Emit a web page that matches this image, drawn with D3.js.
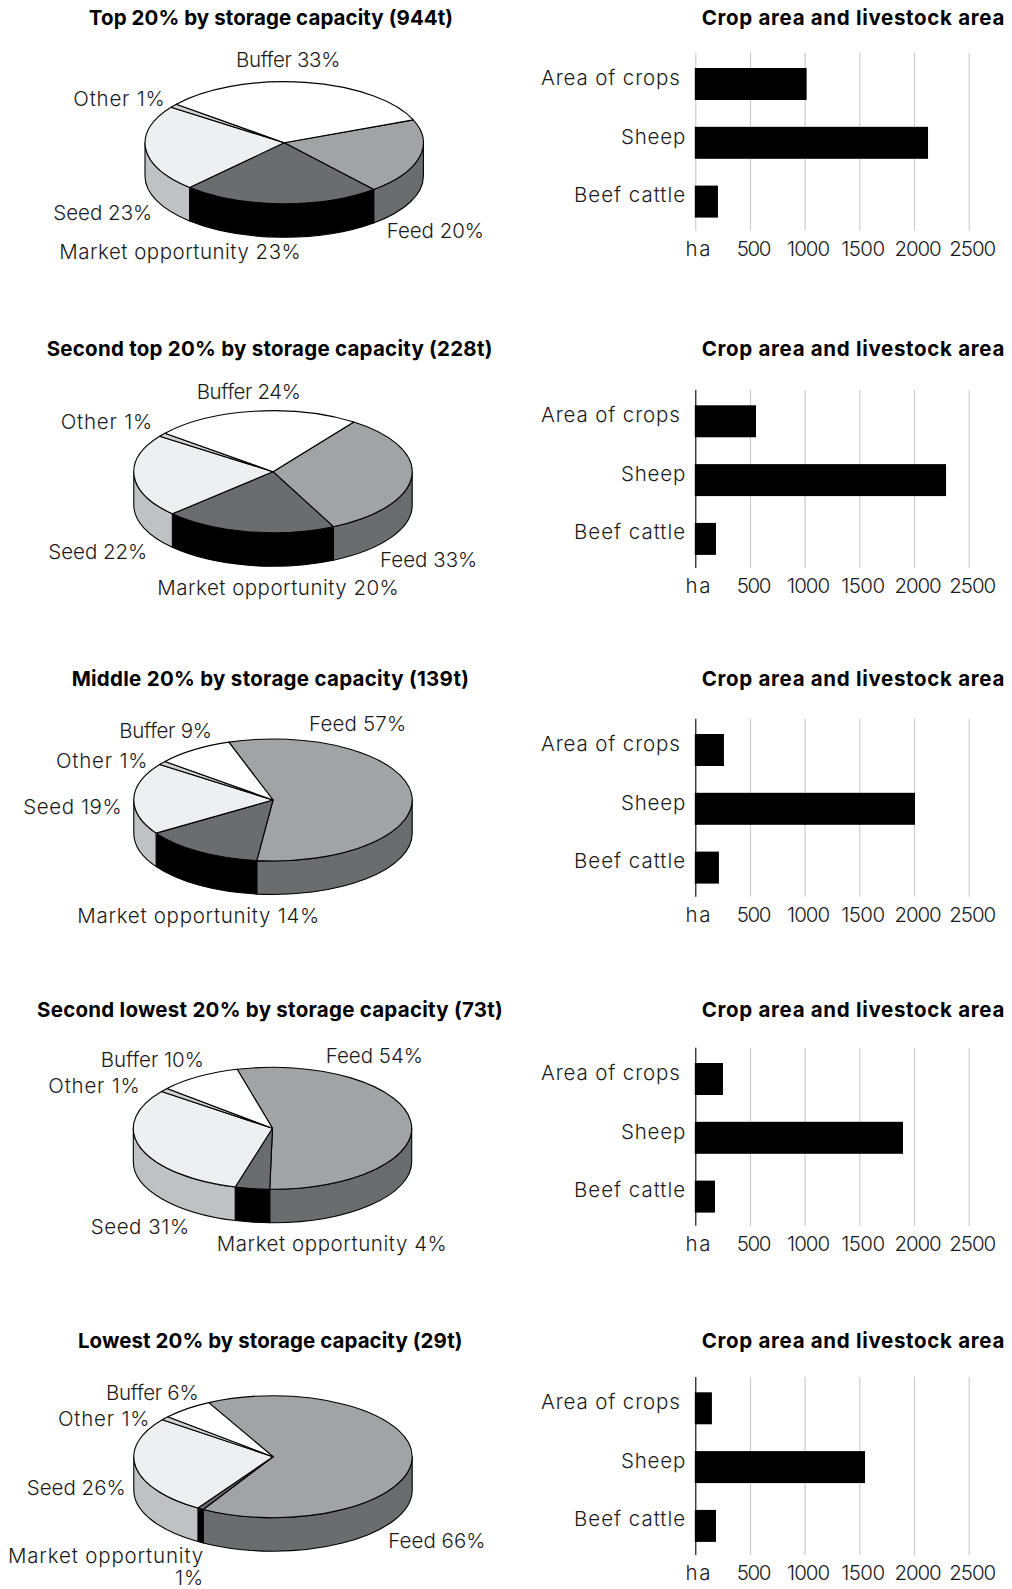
<!DOCTYPE html>
<html><head><meta charset="utf-8">
<script src="https://cdnjs.cloudflare.com/ajax/libs/d3/7.8.5/d3.min.js"></script>
<style>
html,body{margin:0;padding:0;background:#fff}
svg{display:block}
text{font-family:Inter,Lato,"Open Sans",sans-serif;fill:#1a1a1a}
.title{font-weight:700;font-size:20.5px;fill:#000}
.lab{font-size:20.5px;font-weight:300}
</style></head><body>
<svg id="c" width="1012" height="1589"></svg>
<script>
// ---- data ----
const pieTitles = ["Top 20% by storage capacity (944t)","Second top 20% by storage capacity (228t)","Middle 20% by storage capacity (139t)","Second lowest 20% by storage capacity (73t)","Lowest 20% by storage capacity (29t)"];
const barTitle = "Crop area and livestock area";
const sliceNames = ["Feed","Market opportunity","Seed","Other","Buffer"];
const feedPct   = [20,33,57,54.4,66];
const marketPct = [23,20,14,4,0.7];
const seedPct   = [23,22,19,31,26.3];
const otherPct  = [1,1,1,1,1];
const bufferPct = [33,24,9,9.6,6];
const barCategories = ["Area of crops","Sheep","Beef cattle"];
const cropsHa = [1018,555,262,253,152];
const sheepHa = [2128,2293,2009,1899,1552];
const beefHa  = [207,189,216,180,189];
const xTicks  = [0,500,1000,1500,2000,2500];

// ---- layout ----
const pieCx = [284.2,273,273,272.5,273];
const pieCy = [142.7,471.7,800,1128.3,1456.7];
const pieStartDeg = [68,35.5,-18.5,-14.7,-27.5];
const rx = 139.2, ry = 61, depth = 33.5;
const topFill  = ["#a2a3a5","#6b6c6e","#eeeff1","#d0d1d3","#ffffff"];
const sideFill = ["#6b6c6e","#000000","#c0c1c3","#9a9b9d","#dddddd"];
const titleCx = [271,269.7,270.5,270,270.3];
const titleY  = [24.7,356,686,1017.4,1348.4];
const titleW  = [364.3,446,397.7,466,384.7];
const barTitleW = 303.3;
const barTitleY = [24.7,356,686,1017.4,1348];
const gridTop = [52.7,390,718.7,1047.7,1377];
const axisCol = ["#c8c8c8","#000","#000","#000","#000"];
// label anchors: Feed, Market, Seed, Other, Buffer as [x, baseline]
const labelPos = [
 [[386.7,237.7],[59.3,258.7],[53.3,219.8],[73.3,106],[236,66.7]],
 [[380,566.7],[157.3,595],[48.3,558.7],[60.7,429.3],[196.7,399.3]],
 [[309,730.7],[77.3,923.3],[23.3,813.7],[56,767.7],[119.3,737.7]],
 [[325.7,1063.3],[216.7,1250.7],[90.7,1233.7],[48.3,1092.7],[100.7,1066.7]],
 [[388.3,1548.3],[8.3,1563.3],[26.7,1495.3],[58,1425.7],[106,1400]]
];
// rendered label widths, Feed, Market, Seed, Other, Buffer per pie
const labelW = [
 [97.3,242,99,92.3,104],
 [97.3,242,99,92.3,104],
 [97.3,242.7,99,92.3,92.3],
 [97.3,230.7,99,92.3,103.3],
 [97.3,196,99,92.3,92.3]
];
const tickW = [26.7,33.3,42.3,43.3,46,45.7];
const catW  = [139.7,65,112];
const catDy = [0.6,1.3,0];

const svg = d3.select("#c");
const rad = d => d*Math.PI/180;
const pt = (a,dy,i) => [pieCx[i]+rx*Math.sin(a), pieCy[i]-ry*Math.cos(a)+dy];
const fit = (node,w) => {
  const n=node.textContent.length;
  d3.select(node).attr("letter-spacing",((w-node.getComputedTextLength())/n).toFixed(3));
};

pieTitles.forEach((title,i)=>{
  const values = [feedPct[i],marketPct[i],seedPct[i],otherPct[i],bufferPct[i]];
  const s = rad(pieStartDeg[i]);
  const arcs = d3.pie().sort(null).startAngle(s).endAngle(s+2*Math.PI)(values);
  const g = svg.append("g");

  // side wall: only the part of each slice facing the viewer (front half, in any turn)
  const walls = [];
  arcs.forEach((d,k)=>{
    [-2*Math.PI,0,2*Math.PI].forEach(t=>{
      const a0=Math.max(d.startAngle,Math.PI/2+t), a1=Math.min(d.endAngle,3*Math.PI/2+t);
      if(a1>a0) walls.push({k,r:[a0,a1]});
    });
  });
  g.selectAll("path.wall").data(walls).join("path").attr("class","wall")
    .attr("fill",d=>sideFill[d.k]).attr("stroke","#000").attr("stroke-width",1.1).attr("stroke-linejoin","round")
    .attr("d",d=>{
      const [a0,a1]=d.r, p0=pt(a0,0,i), p1=pt(a1,0,i), q1=pt(a1,depth,i), q0=pt(a0,depth,i);
      return `M${p0}A${rx},${ry} 0 0 1 ${p1}L${q1}A${rx},${ry} 0 0 0 ${q0}Z`;
    });

  const arc = d3.arc().innerRadius(0).outerRadius(rx);
  g.append("g").attr("transform",`translate(${pieCx[i]},${pieCy[i]}) scale(1,${ry/rx})`)
    .selectAll("path").data(arcs).join("path")
    .attr("d",arc).attr("fill",(d,k)=>topFill[k]).attr("stroke","#000").attr("stroke-width",1.1)
    .attr("stroke-linejoin","round").attr("vector-effect","non-scaling-stroke");

  const tt=svg.append("text").attr("class","title").attr("x",titleCx[i]).attr("y",titleY[i]).attr("text-anchor","middle").text(title);
  fit(tt.node(),titleW[i]);

  sliceNames.forEach((n,k)=>{
    const [x,y]=labelPos[i][k];
    const pct=Math.round(values[k])+"%";
    if(i===4&&k===1){
      const t=svg.append("text").attr("class","lab").attr("y",y).attr("text-anchor","end");
      t.append("tspan").attr("x",204).text(n);
      t.append("tspan").attr("x",204).attr("dy",21.7).text(pct);
      const meas=svg.append("text").attr("class","lab").text(n);
      const ls=(labelW[i][k]-meas.node().getComputedTextLength())/n.length;
      meas.remove();
      t.attr("letter-spacing",ls.toFixed(3));
    } else {
      const t=svg.append("text").attr("class","lab").attr("x",x).attr("y",y).text(`${n} ${pct}`);
      fit(t.node(),labelW[i][k]);
    }
  });

  // ---- bar panel ----
  const top=gridTop[i], h=178;
  const x=d3.scaleLinear().domain([0,2500]).range([695.3,968.7]);
  const y=d3.scaleBand().domain(barCategories).range([top+15.3,top+164.9]).paddingInner(0.456).paddingOuter(0);
  const rows=[cropsHa[i],sheepHa[i],beefHa[i]];
  const b=svg.append("g");
  const bt=b.append("text").attr("class","title").attr("x",701.7).attr("y",barTitleY[i]).text(barTitle);
  fit(bt.node(),barTitleW);
  const ax=b.append("g").attr("transform",`translate(0,${top+h})`)
    .call(d3.axisBottom(x).tickValues(xTicks).tickSize(h).tickFormat(d=>d===0?"ha":d));
  ax.select(".domain").remove();
  ax.attr("font-size",null).attr("font-family",null);
  ax.selectAll(".tick line").attr("y2",-h).attr("stroke",d=>d===0?axisCol[i]:"#c8c8c8").attr("stroke-width",1.1);
  ax.selectAll(".tick text").attr("class","lab").attr("y",25).attr("dy",0).attr("dx",3).attr("fill",null)
    .each(function(d,k){fit(this,tickW[k]);});
  b.selectAll("rect").data(rows).join("rect")
    .attr("x",x(0)-0.5).attr("y",(d,k)=>y(barCategories[k])).attr("height",y.bandwidth())
    .attr("width",d=>x(d)-x(0)+0.5).attr("fill","#000");
  const yAx=b.append("g").attr("transform","translate(686,0)").call(d3.axisLeft(y).tickSize(0).tickPadding(0));
  yAx.select(".domain").remove();
  yAx.attr("font-size",null).attr("font-family",null);
  yAx.selectAll("text").attr("class","lab").attr("dy",(d,k)=>catDy[k]).attr("dx",d=>d==="Area of crops"?-5.3:0).attr("fill",null)
    .each(function(d,k){fit(this,catW[k]);});
});
</script></body></html>
